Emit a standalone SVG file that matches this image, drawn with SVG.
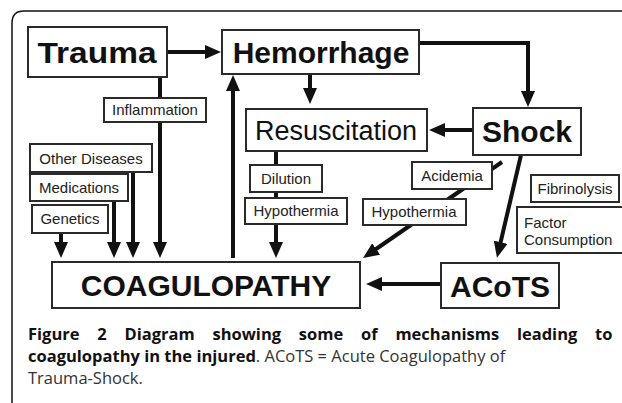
<svg xmlns="http://www.w3.org/2000/svg" width="622" height="403" viewBox="0 0 622 403">
<style>
.box{fill:#fff;stroke:#2a2a2a;stroke-width:2}
.big{font-family:"Liberation Sans",Arial,sans-serif;font-weight:bold;font-size:30px;fill:#111;text-anchor:middle}
.mid{font-family:"Liberation Sans",Arial,sans-serif;font-size:27px;fill:#111;text-anchor:middle}
.sm{font-family:"Liberation Sans",Arial,sans-serif;font-size:15px;fill:#222;text-anchor:middle}
.sml{font-family:"Liberation Sans",Arial,sans-serif;font-size:15px;fill:#222;text-anchor:start}
.con{fill:none;stroke:#111;stroke-width:4}
.cap{font-family:"Open Sans","Noto Sans",sans-serif;font-size:16.5px}
.capb{font-weight:bold;fill:#111}
.capr{fill:#333}
</style>
<defs>
<marker id="ah" markerUnits="userSpaceOnUse" markerWidth="16" markerHeight="14" refX="8" refY="7" orient="auto">
<path d="M0,0 L16,7 L0,14 z" fill="#111"/>
</marker>
</defs>
<path d="M12,403 V23 Q12,11 24,11 H622" fill="none" stroke="#111" stroke-width="1.5"/>
<g id="connectors">
<line class="con" x1="167" y1="52" x2="213" y2="52" marker-end="url(#ah)"/>
<path class="con" d="M419,43 H528 V99" marker-end="url(#ah)"/>
<line class="con" x1="310" y1="74" x2="310" y2="96" marker-end="url(#ah)"/>
<line class="con" x1="473" y1="130" x2="437" y2="130" marker-end="url(#ah)"/>
<line class="con" x1="160" y1="77" x2="160" y2="250" marker-end="url(#ah)"/>
<line class="con" x1="133" y1="172" x2="133" y2="250" marker-end="url(#ah)"/>
<line class="con" x1="114" y1="201" x2="114" y2="250" marker-end="url(#ah)"/>
<line class="con" x1="61" y1="233" x2="61" y2="250" marker-end="url(#ah)"/>
<line class="con" x1="233" y1="258" x2="233" y2="83" marker-end="url(#ah)"/>
<line class="con" x1="276" y1="151" x2="276" y2="250" marker-end="url(#ah)"/>
<line class="con" x1="502" y1="162" x2="369.6" y2="253.5" marker-end="url(#ah)"/>
<line class="con" x1="521" y1="155" x2="498.8" y2="250" marker-end="url(#ah)"/>
<line class="con" x1="440" y1="284" x2="374" y2="284" marker-end="url(#ah)"/>
</g>
<g id="trauma"><rect class="box" x="28" y="27" width="139" height="50"/><text class="big" x="97" y="63" font-size="31" textLength="119" lengthAdjust="spacingAndGlyphs">Trauma</text></g>
<g id="hemorrhage"><rect class="box" x="222" y="30" width="197" height="44"/><text class="big" x="321" y="63">Hemorrhage</text></g>
<g id="shock"><rect class="box" x="473" y="108" width="108" height="47"/><text class="big" x="527" y="142">Shock</text></g>
<g id="resuscitation"><rect class="box" x="246" y="109" width="181" height="42"/><text class="mid" x="336" y="140">Resuscitation</text></g>
<g id="inflammation"><rect class="box" x="104" y="98" width="102" height="24"/><text class="sm" x="155" y="115">Inflammation</text></g>
<g id="other-diseases"><rect class="box" x="30" y="144" width="122" height="28"/><text class="sm" x="91" y="164">Other Diseases</text></g>
<g id="medications"><rect class="box" x="30" y="174" width="98" height="27"/><text class="sm" x="79" y="193">Medications</text></g>
<g id="genetics"><rect class="box" x="32" y="205" width="76" height="28"/><text class="sm" x="70" y="224">Genetics</text></g>
<g id="coagulopathy"><rect class="box" x="52" y="262" width="308" height="46"/><text class="big" x="206" y="296">COAGULOPATHY</text></g>
<g id="dilution"><rect class="box" x="250" y="165" width="72" height="27"/><text class="sm" x="286" y="184">Dilution</text></g>
<g id="hypothermia-left"><rect class="box" x="245" y="198" width="102" height="26"/><text class="sm" x="296" y="216">Hypothermia</text></g>
<g id="acidemia"><rect class="box" x="412" y="162" width="80" height="27"/><text class="sm" x="452" y="181">Acidemia</text></g>
<g id="hypothermia-right"><rect class="box" x="363" y="199" width="103" height="26"/><text class="sm" x="414" y="217">Hypothermia</text></g>
<g id="acots"><rect class="box" x="441" y="263" width="118" height="45"/><text class="big" x="500" y="297">ACoTS</text></g>
<g id="fibrinolysis"><rect class="box" x="531" y="175" width="88" height="27"/><text class="sm" x="575" y="194">Fibrinolysis</text></g>
<g id="factor-consumption"><rect class="box" x="517" y="207" width="108" height="46"/><text class="sml" x="524" y="228">Factor</text><text class="sml" x="524" y="245">Consumption</text></g>
<g id="caption" class="cap">
<text class="capb" x="28" y="340" word-spacing="13.5">Figure 2 Diagram showing some of mechanisms leading to</text>
<text x="28" y="362"><tspan class="capb">coagulopathy in the injured</tspan><tspan class="capr">. ACoTS = Acute Coagulopathy of</tspan></text>
<text class="capr" x="28" y="384">Trauma-Shock.</text>
</g>
</svg>
